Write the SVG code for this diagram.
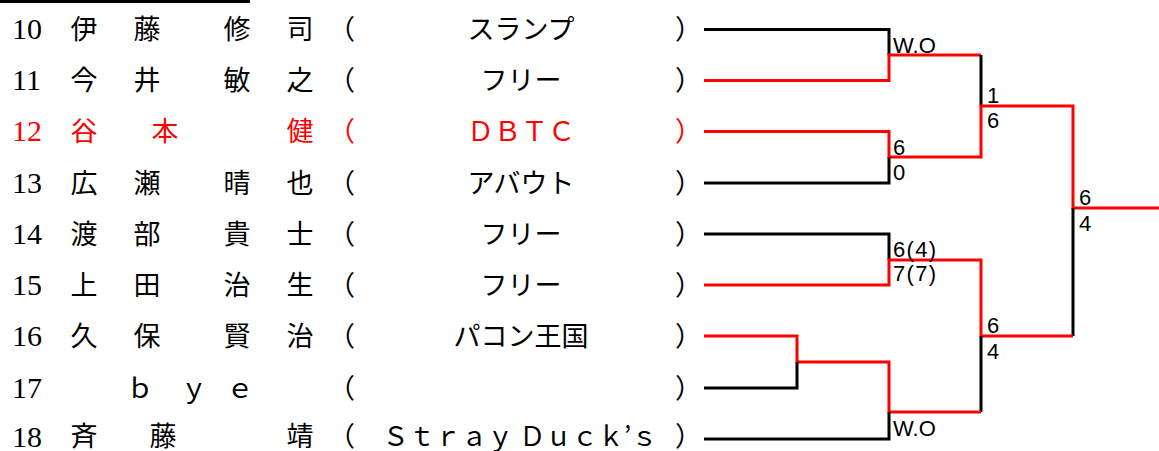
<svg xmlns="http://www.w3.org/2000/svg" width="1159" height="451" viewBox="0 0 1159 451">
<style>
.num{font-family:"Liberation Serif",serif;font-size:30px}
.jp{font-family:"Noto Sans CJK JP",sans-serif;font-size:27px;text-anchor:middle}
.team{font-family:"Noto Sans CJK JP",sans-serif;font-size:27px;text-anchor:middle}
.par{font-family:"Noto Sans CJK JP",sans-serif;font-size:27px}
.red{fill:#ff0000}
.sc{font-family:"Liberation Sans",sans-serif;font-size:22px;fill:#000}
.k{stroke:#000;stroke-width:3;fill:none}
.r{stroke:#ff0000;stroke-width:3;fill:none}
</style>
<line x1="0" y1="1.5" x2="250" y2="1.5" stroke="#000" stroke-width="3"/>
<g id="p10"><text class="num" x="12" y="39">10</text><text class="jp" x="84" y="39">伊</text><text class="jp" x="147" y="39">藤</text><text class="jp" x="237" y="39">修</text><text class="jp" x="300" y="39">司</text><text class="par" x="328" y="39">（</text><text class="team" x="521" y="39">スランプ</text><text class="par" x="675" y="39">）</text></g>
<g id="p11"><text class="num" x="12" y="90">11</text><text class="jp" x="84" y="90">今</text><text class="jp" x="147" y="90">井</text><text class="jp" x="237" y="90">敏</text><text class="jp" x="300" y="90">之</text><text class="par" x="328" y="90">（</text><text class="team" x="521" y="90">フリー</text><text class="par" x="675" y="90">）</text></g>
<g id="p12" class="red"><text class="num red" x="12" y="141">12</text><text class="jp red" x="84" y="141">谷</text><text class="jp red" x="165" y="141">本</text><text class="jp red" x="300" y="141">健</text><text class="par red" x="328" y="141">（</text><text class="team red" x="521" y="141">ＤＢＴＣ</text><text class="par red" x="675" y="141">）</text></g>
<g id="p13"><text class="num" x="12" y="193">13</text><text class="jp" x="84" y="193">広</text><text class="jp" x="147" y="193">瀬</text><text class="jp" x="237" y="193">晴</text><text class="jp" x="300" y="193">也</text><text class="par" x="328" y="193">（</text><text class="team" x="521" y="193">アバウト</text><text class="par" x="675" y="193">）</text></g>
<g id="p14"><text class="num" x="12" y="244">14</text><text class="jp" x="84" y="244">渡</text><text class="jp" x="147" y="244">部</text><text class="jp" x="237" y="244">貴</text><text class="jp" x="300" y="244">士</text><text class="par" x="328" y="244">（</text><text class="team" x="521" y="244">フリー</text><text class="par" x="675" y="244">）</text></g>
<g id="p15"><text class="num" x="12" y="295">15</text><text class="jp" x="84" y="295">上</text><text class="jp" x="147" y="295">田</text><text class="jp" x="237" y="295">治</text><text class="jp" x="300" y="295">生</text><text class="par" x="328" y="295">（</text><text class="team" x="521" y="295">フリー</text><text class="par" x="675" y="295">）</text></g>
<g id="p16"><text class="num" x="12" y="346">16</text><text class="jp" x="84" y="346">久</text><text class="jp" x="147" y="346">保</text><text class="jp" x="237" y="346">賢</text><text class="jp" x="300" y="346">治</text><text class="par" x="328" y="346">（</text><text class="team" x="521" y="346">パコン王国</text><text class="par" x="675" y="346">）</text></g>
<g id="p17"><text class="num" x="12" y="398">17</text><text class="jp" x="140" y="398">ｂ</text><text class="jp" x="194" y="398">ｙ</text><text class="jp" x="240" y="398">ｅ</text><text class="par" x="328" y="398">（</text><text class="par" x="675" y="398">）</text></g>
<g id="p18"><text class="num" x="12" y="447">18</text><text class="jp" x="84" y="446">斉</text><text class="jp" x="163" y="446">藤</text><text class="jp" x="300" y="446">靖</text><text class="par" x="328" y="446">（</text><text class="team" x="520" y="446" textLength="275" lengthAdjust="spacingAndGlyphs">Ｓｔｒａｙ Ｄｕｃｋ’ｓ</text><text class="par" x="675" y="446">）</text></g>
<g id="connectors">
<path class="k" d="M704 29.5H889V55"/>
<path class="r" d="M704 80.5H889V55H981"/>
<path class="k" d="M981 55V106"/>
<path class="r" d="M704 131.5H889V157H981V106H1073V208H1159"/>
<path class="k" d="M704 183H889V157"/>
<path class="k" d="M1073 208V336"/>
<path class="k" d="M704 234H889V260"/>
<path class="r" d="M704 285H889V260H981V336H1073"/>
<path class="k" d="M981 336V412"/>
<path class="r" d="M704 336H797V362H889V412H981"/>
<path class="k" d="M704 388H797V362"/>
<path class="k" d="M704 439H889V412"/>
</g>
<g id="scores">
<text class="sc" x="893" y="53">W.O</text>
<text class="sc" x="893" y="155">6</text>
<text class="sc" x="893" y="180">0</text>
<text class="sc" x="987" y="103">1</text>
<text class="sc" x="987" y="128">6</text>
<text class="sc" x="1079" y="205">6</text>
<text class="sc" x="1079" y="231">4</text>
<text class="sc" x="893" y="257" textLength="43">6(4)</text>
<text class="sc" x="893" y="281" textLength="43">7(7)</text>
<text class="sc" x="987" y="333">6</text>
<text class="sc" x="987" y="359">4</text>
<text class="sc" x="893" y="436">W.O</text>
</g>
</svg>
